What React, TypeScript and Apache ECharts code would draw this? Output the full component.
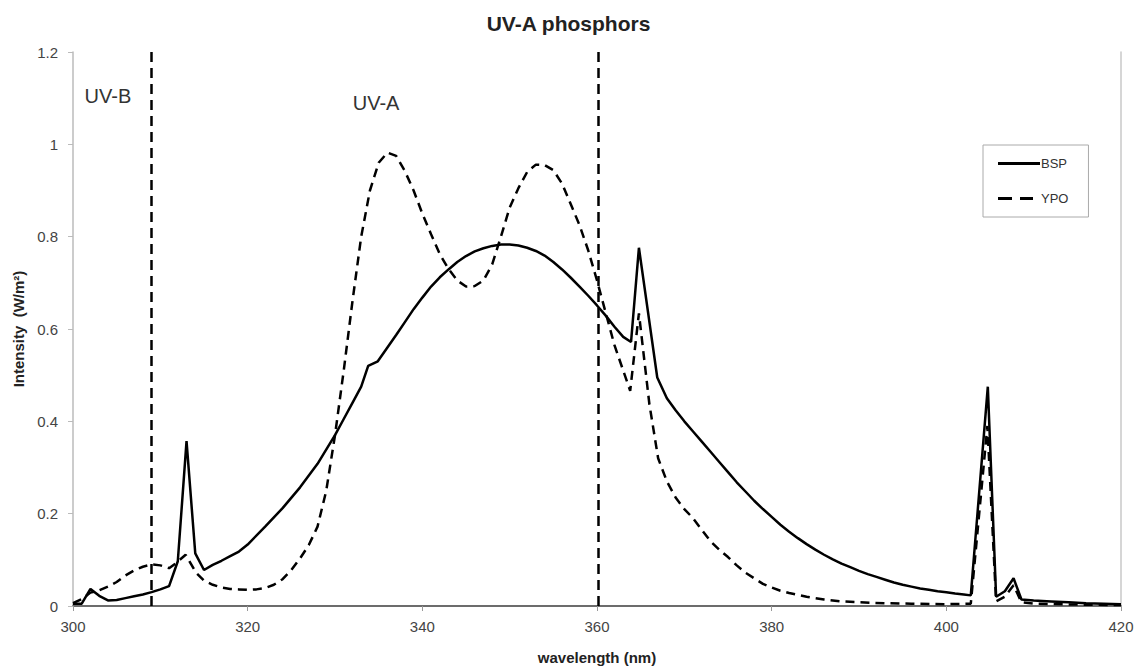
import React, { useEffect, useRef } from "react";
import * as echarts from "echarts";

const TITLE = "UV-A phosphors";
const X_NAME = "wavelength (nm)";
const Y_NAME = "Intensity  (W/m²)";
const X_TICKS = [300, 320, 340, 360, 380, 400, 420];
const Y_TICKS = [0, 0.2, 0.4, 0.6, 0.8, 1, 1.2];
const BOUNDARIES = [309, 360.2];
const REGION_LABELS = ["UV-B", "UV-A"];

const bspX = [300, 301, 302, 303, 304, 305, 306, 307, 308, 309, 310, 311, 312, 313, 314, 315, 316, 317, 318, 319, 320, 322, 324, 326, 328, 330, 331, 332, 333, 333.8, 334.9, 336, 337, 338, 339, 340, 341, 342, 343, 344, 345, 346, 347, 348, 349, 350, 351, 352, 353, 354, 355, 356, 357, 358, 359, 360, 361, 362, 363, 363.9, 364.8, 366.9, 368, 369, 370, 371, 372, 373, 374, 375, 376, 377, 378, 379, 380, 381, 382, 383, 384, 385, 386, 387, 388, 389, 390, 391, 392, 393, 394, 395, 396, 397, 398, 399, 400, 401, 402, 402.8, 404.75, 405.7, 406.7, 407.7, 408.6, 410, 412, 414, 416, 418, 420];
const bspY = [0.005, 0.005, 0.037, 0.022, 0.012, 0.013, 0.017, 0.021, 0.025, 0.03, 0.036, 0.043, 0.097, 0.357, 0.114, 0.078, 0.089, 0.098, 0.108, 0.118, 0.133, 0.172, 0.212, 0.257, 0.308, 0.37, 0.405, 0.44, 0.475, 0.52, 0.53, 0.56, 0.587, 0.615, 0.643, 0.668, 0.692, 0.712, 0.729, 0.745, 0.758, 0.768, 0.775, 0.78, 0.783, 0.783, 0.781, 0.776, 0.769, 0.759, 0.745, 0.729, 0.711, 0.692, 0.672, 0.651, 0.629, 0.605, 0.583, 0.572, 0.776, 0.495, 0.45, 0.424, 0.4, 0.378, 0.356, 0.334, 0.312, 0.29, 0.268, 0.248, 0.228, 0.21, 0.193, 0.176, 0.161, 0.147, 0.134, 0.122, 0.111, 0.101, 0.092, 0.084, 0.076, 0.069, 0.063, 0.057, 0.051, 0.046, 0.042, 0.038, 0.035, 0.032, 0.03, 0.027, 0.025, 0.023, 0.475, 0.02, 0.032, 0.06, 0.014, 0.012, 0.01, 0.008, 0.006, 0.005, 0.004];

const ypoX = [300, 301, 302, 303, 304, 305, 306, 307, 308, 309, 310, 311, 311.8, 312.9, 314.1, 315, 316, 317, 318, 319, 320, 321, 322, 323, 324, 325, 326, 327, 328, 329, 330, 331, 332, 333, 334, 335, 336, 337, 338, 339, 340, 341, 342, 343, 344, 345, 346, 347, 348, 349, 350, 351, 352, 353, 354, 355, 356, 357, 358, 359, 360, 361, 362, 363, 363.8, 364.8, 366, 367, 368, 369, 370, 371, 372, 373, 374, 375, 376, 377, 378, 379, 380, 381, 382, 384, 386, 388, 390, 393, 396, 400, 402.8, 404.7, 405.7, 406.7, 407.7, 408.6, 410, 415, 420];
const ypoY = [0.006, 0.015, 0.029, 0.034, 0.042, 0.052, 0.066, 0.077, 0.085, 0.09, 0.088, 0.082, 0.093, 0.111, 0.072, 0.055, 0.046, 0.04, 0.037, 0.036, 0.035, 0.036, 0.039, 0.046, 0.058, 0.078, 0.103, 0.132, 0.172, 0.25, 0.37, 0.51, 0.66, 0.8, 0.9, 0.96, 0.982, 0.975, 0.942, 0.9, 0.85, 0.805, 0.762, 0.73, 0.705, 0.692, 0.693, 0.705, 0.74, 0.8, 0.863, 0.905, 0.94, 0.956, 0.955, 0.944, 0.915, 0.87, 0.825, 0.77, 0.705, 0.635, 0.565, 0.51, 0.466, 0.634, 0.437, 0.32, 0.27, 0.235, 0.21, 0.19, 0.165, 0.14, 0.122, 0.106, 0.088, 0.072, 0.06, 0.048, 0.04, 0.033, 0.028, 0.02, 0.014, 0.01, 0.008, 0.006, 0.005, 0.004, 0.005, 0.39, 0.01, 0.02, 0.045, 0.008, 0.005, 0.003, 0.002];

const FONT = "'Liberation Sans', Arial, sans-serif";
const SOLID_ICON = "path://M0,0H42V3H0Z";
const DASH_ICON = "path://M0,0H14V3H0Z M22,0H35V3H22Z M42,0L42,3";

export default function App() {
  const ref = useRef<HTMLDivElement>(null);
  useEffect(() => {
    if (!ref.current) return;
    const chart = echarts.init(ref.current, undefined, { renderer: "svg" });
    const bsp = bspX.map((x, i) => [x, bspY[i]]);
    const ypo = ypoX.map((x, i) => [x, ypoY[i]]);
    chart.setOption({
      animation: false,
      backgroundColor: "#ffffff",
      textStyle: { fontFamily: FONT },
      title: {
        text: TITLE,
        left: "center",
        top: 8,
        textStyle: { fontSize: 21, fontWeight: "bold", color: "#222", fontFamily: FONT },
      },
      grid: { left: 73, right: 16, top: 52, bottom: 60 },
      legend: {
        orient: "vertical",
        left: 983,
        top: 145,
        padding: [12, 20, 12, 15],
        itemGap: 22,
        itemWidth: 42,
        itemHeight: 3,
        itemStyle: { borderWidth: 0 },
        borderColor: "#aaaaaa",
        borderWidth: 1,
        textStyle: { fontSize: 13, color: "#333", fontFamily: FONT, padding: [0, 0, 0, -4] },
        data: [
          { name: "BSP", icon: SOLID_ICON },
          { name: "YPO", icon: DASH_ICON },
        ],
      },
      xAxis: [
        {
          type: "value",
          min: 300,
          max: 420,
          interval: 20,
          name: X_NAME,
          nameLocation: "middle",
          nameGap: 44,
          nameTextStyle: { fontSize: 15, fontWeight: "bold", color: "#222", fontFamily: FONT },
          axisLine: { lineStyle: { color: "#999", width: 1.5 } },
          axisTick: { show: true, length: 5, lineStyle: { color: "#999" } },
          axisLabel: {
            fontSize: 15,
            color: "#444",
            margin: 13,
            formatter: (v: number) => (X_TICKS.includes(v) ? String(v) : ""),
          },
          splitLine: { show: false },
        },
        {
          type: "value",
          position: "top",
          min: 300,
          max: 420,
          interval: 20,
          axisLine: { show: true, lineStyle: { color: "#555", width: 1.5 } },
          axisTick: { show: false },
          axisLabel: { show: false },
          splitLine: { show: false },
        },
      ],
      yAxis: [
        {
          type: "value",
          min: 0,
          max: 1.2,
          interval: 0.2,
          name: Y_NAME,
          nameLocation: "middle",
          nameGap: 46,
          nameRotate: 90,
          nameTextStyle: { fontSize: 15, fontWeight: "bold", color: "#222", fontFamily: FONT },
          axisLine: { show: true, lineStyle: { color: "#bbb", width: 1.5 } },
          axisTick: { show: true, length: 5, lineStyle: { color: "#bbb" } },
          axisLabel: {
            fontSize: 15,
            color: "#444",
            margin: 15,
            formatter: (v: number) => {
              const r = Math.round(v * 10) / 10;
              return Y_TICKS.includes(r) ? String(r) : "";
            },
          },
          splitLine: { show: false },
        },
        {
          type: "value",
          position: "right",
          min: 0,
          max: 1.2,
          interval: 0.2,
          axisLine: { show: true, lineStyle: { color: "#c8c8c8", width: 1.5 } },
          axisTick: { show: false },
          axisLabel: { show: false },
          splitLine: { show: false },
        },
      ],
      series: [
        {
          name: "BSP",
          type: "line",
          data: bsp,
          symbol: "none",
          lineStyle: { color: "#000", width: 2.5 },
          itemStyle: { color: "#000" },
          z: 3,
        },
        {
          name: "YPO",
          type: "line",
          data: ypo,
          symbol: "none",
          lineStyle: { color: "#000", width: 2.5, type: [9, 6] },
          itemStyle: { color: "#000" },
          z: 2,
          markLine: {
            silent: true,
            symbol: "none",
            label: { show: false },
            lineStyle: { color: "#000", width: 2.5, type: [10, 6] },
            data: BOUNDARIES.map((b) => ({ xAxis: b })),
          },
          markPoint: {
            silent: true,
            symbol: "rect",
            symbolSize: 1,
            itemStyle: { color: "rgba(0,0,0,0)" },
            label: {
              show: true,
              fontSize: 20,
              color: "#333",
              fontFamily: FONT,
              position: "inside",
            },
            data: [
              { coord: [304.0, 1.105], value: REGION_LABELS[0], label: { formatter: REGION_LABELS[0] } },
              { coord: [334.7, 1.09], value: REGION_LABELS[1], label: { formatter: REGION_LABELS[1] } },
            ],
          },
        },
      ],
    });
    return () => chart.dispose();
  }, []);
  return (
    <div
      ref={ref}
      style={{ position: "fixed", left: 0, top: 0, width: 1137, height: 670, background: "#fff" }}
    />
  );
}
